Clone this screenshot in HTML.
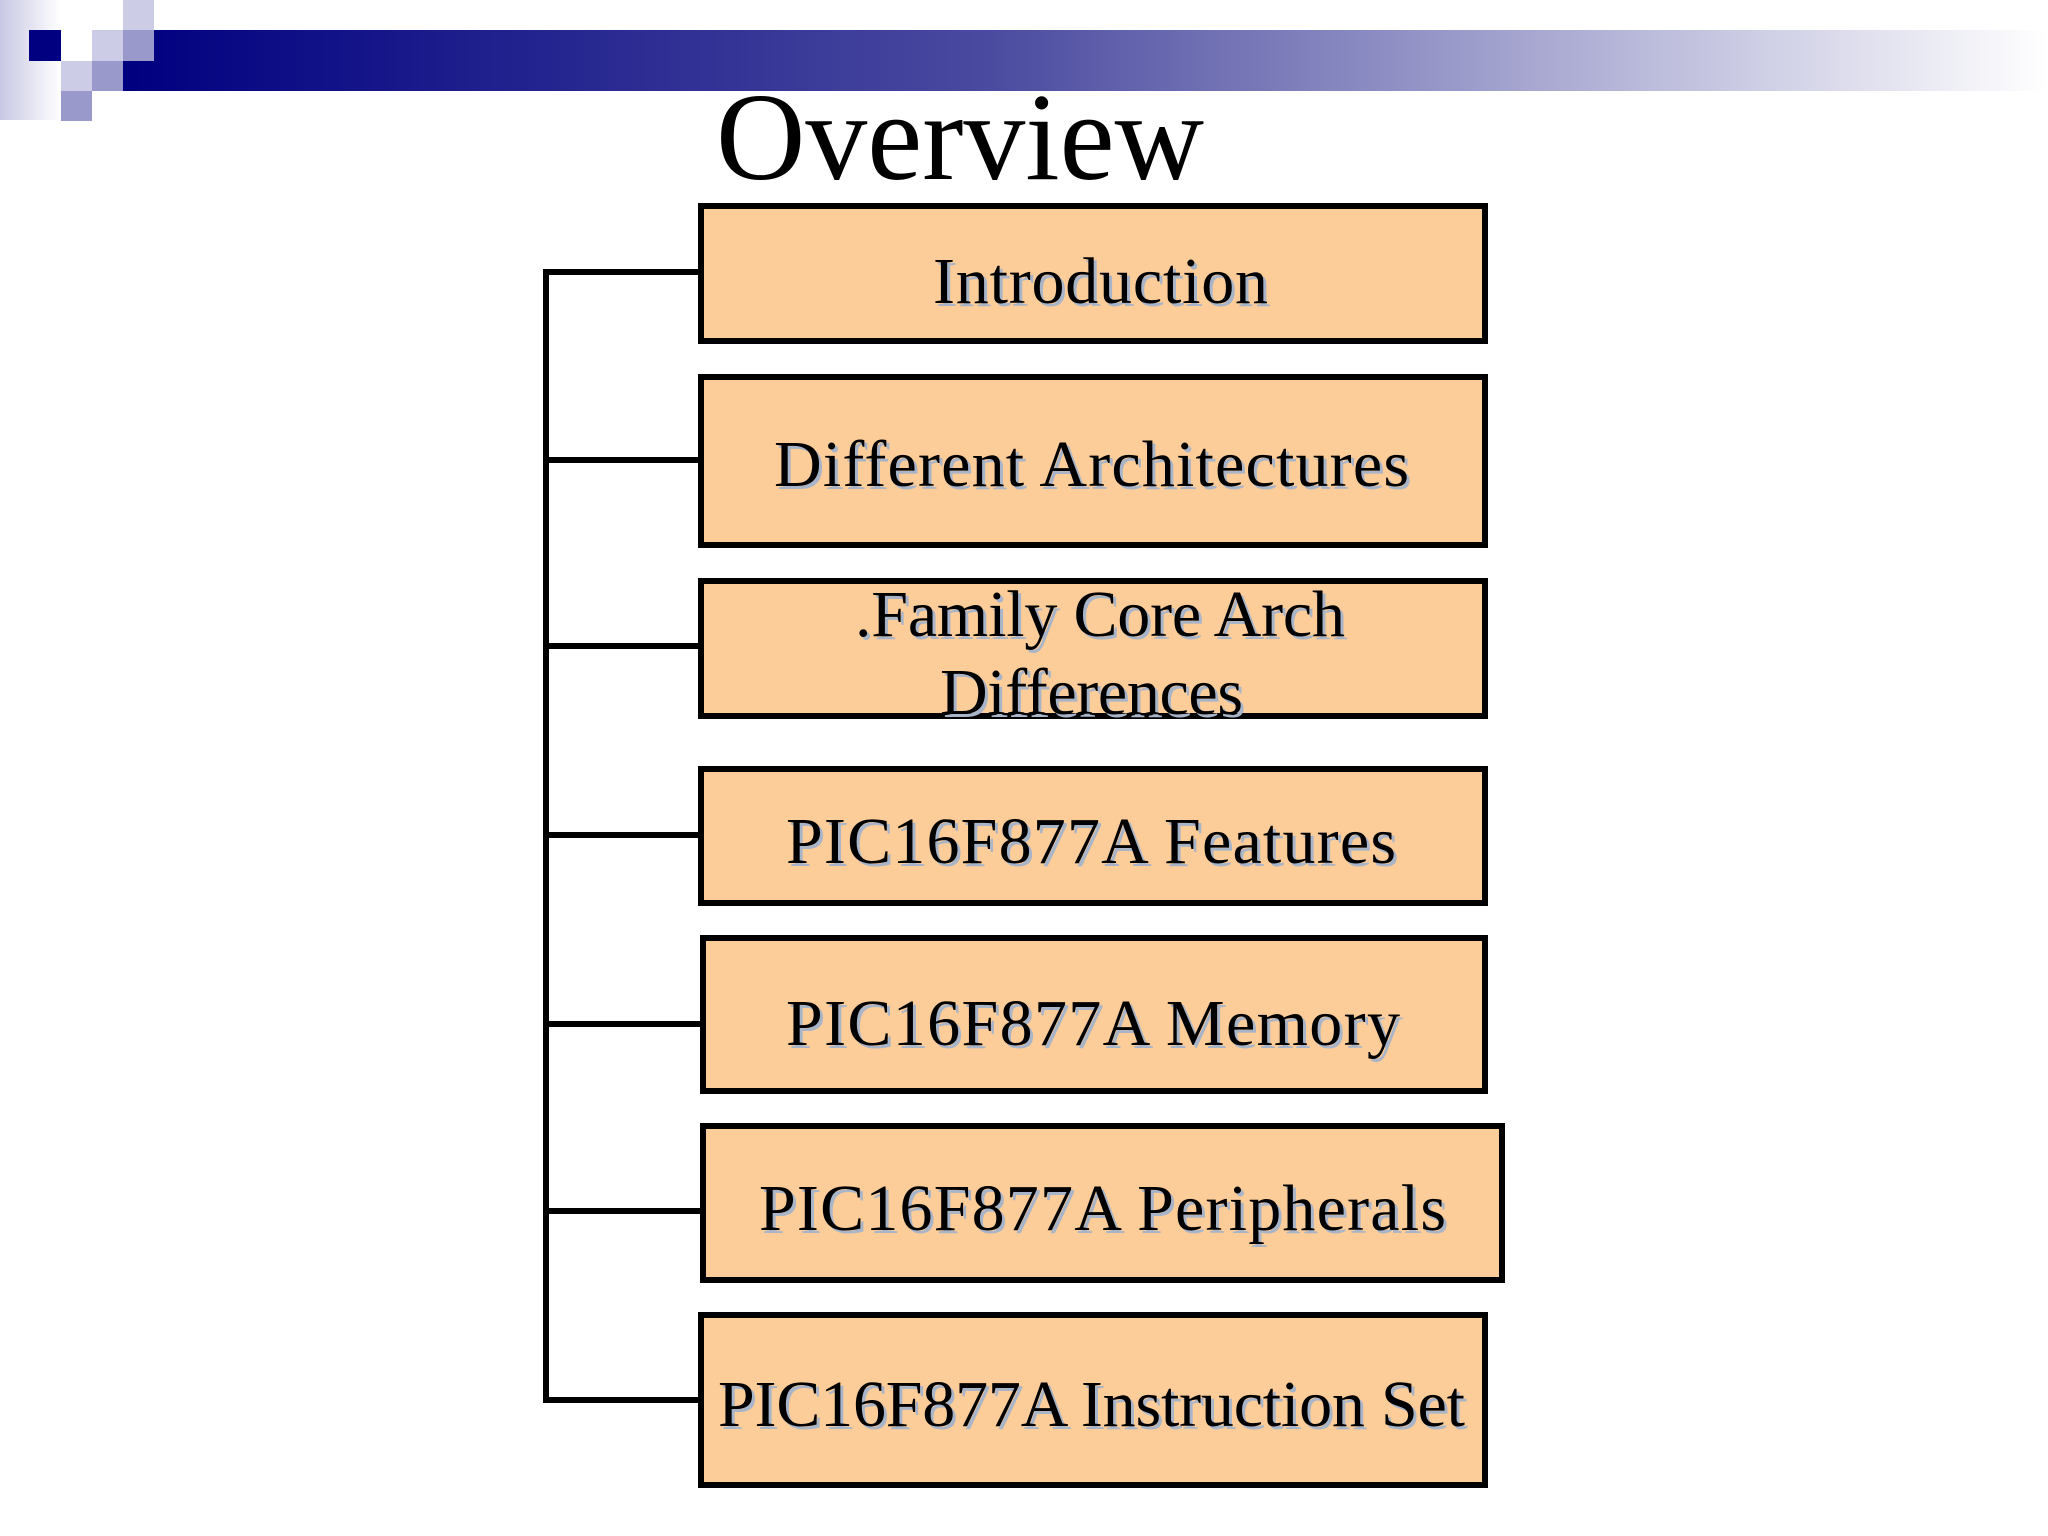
<!DOCTYPE html>
<html><head><meta charset="utf-8"><style>
html,body{margin:0;padding:0;background:#fff;}
body{width:2048px;height:1536px;overflow:hidden;position:relative;}
svg{position:absolute;left:0;top:0;}
</style></head><body>
<svg width="2048" height="1536" viewBox="0 0 2048 1536" xmlns="http://www.w3.org/2000/svg">
<defs>
<linearGradient id="bar" x1="0" y1="0" x2="1" y2="0">
<stop offset="0" stop-color="#000080"/>
<stop offset="0.45" stop-color="#4a4aa0"/>
<stop offset="1" stop-color="#ffffff"/>
</linearGradient>
<linearGradient id="strip" x1="0" y1="0" x2="1" y2="0">
<stop offset="0" stop-color="#c8c8e4"/>
<stop offset="1" stop-color="#ffffff"/>
</linearGradient>
</defs>
<!-- header -->
<rect x="0" y="0" width="61" height="120" fill="url(#strip)"/>
<rect x="123" y="30" width="1925" height="61" fill="url(#bar)"/>
<rect x="29" y="30" width="32" height="31" fill="#000080"/>
<rect x="61" y="30" width="31" height="31" fill="#ffffff"/>
<rect x="123" y="0" width="31" height="30" fill="#ccccE6"/>
<rect x="92" y="30" width="31" height="31" fill="#ccccE6"/>
<rect x="123" y="30" width="31" height="31" fill="#9999cc"/>
<rect x="61" y="61" width="31" height="30" fill="#ccccE6"/>
<rect x="92" y="61" width="31" height="30" fill="#9999cc"/>
<rect x="61" y="91" width="31" height="30" fill="#9999cc"/>
<!-- title -->
<text x="716" y="179" font-family="Liberation Serif, serif" font-size="125" fill="#000" textLength="488" lengthAdjust="spacingAndGlyphs">Overview</text>
<!-- connectors -->
<g stroke="#000" stroke-width="6" fill="none">
<line x1="546" y1="269" x2="546" y2="1403"/>
<line x1="543" y1="272" x2="700" y2="272"/>
<line x1="546" y1="460" x2="700" y2="460"/>
<line x1="546" y1="646" x2="700" y2="646"/>
<line x1="546" y1="835" x2="700" y2="835"/>
<line x1="546" y1="1024" x2="702" y2="1024"/>
<line x1="546" y1="1211" x2="702" y2="1211"/>
<line x1="543" y1="1400" x2="700" y2="1400"/>
</g>
<!-- boxes -->
<g fill="#fccc99" stroke="#000" stroke-width="6">
<rect x="701" y="206" width="784" height="135"/>
<rect x="701" y="377" width="784" height="168"/>
<rect x="701" y="581" width="784" height="135"/>
<rect x="701" y="769" width="784" height="134"/>
<rect x="703" y="938" width="782" height="153"/>
<rect x="703" y="1126" width="799" height="154"/>
<rect x="701" y="1315" width="784" height="170"/>
</g>
<!-- labels -->
<g font-family="Liberation Serif, serif" font-size="66" lengthAdjust="spacingAndGlyphs">
<g fill="#a8b4c8" transform="translate(3,3)">
<text x="933" y="303" textLength="335">Introduction</text>
<text x="774" y="486" textLength="635">Different Architectures</text>
<text x="855" y="636" textLength="490">.Family Core Arch</text>
<text x="940" y="714" textLength="303">Differences</text>
<text x="786" y="863" textLength="610">PIC16F877A Features</text>
<text x="786" y="1045" textLength="614">PIC16F877A Memory</text>
<text x="759" y="1230" textLength="687">PIC16F877A Peripherals</text>
<text x="718" y="1426" textLength="747">PIC16F877A Instruction Set</text>
</g>
<g fill="#000">
<text x="933" y="303" textLength="335">Introduction</text>
<text x="774" y="486" textLength="635">Different Architectures</text>
<text x="855" y="636" textLength="490">.Family Core Arch</text>
<text x="940" y="714" textLength="303">Differences</text>
<text x="786" y="863" textLength="610">PIC16F877A Features</text>
<text x="786" y="1045" textLength="614">PIC16F877A Memory</text>
<text x="759" y="1230" textLength="687">PIC16F877A Peripherals</text>
<text x="718" y="1426" textLength="747">PIC16F877A Instruction Set</text>
</g>
</g>
</svg>
</body></html>
